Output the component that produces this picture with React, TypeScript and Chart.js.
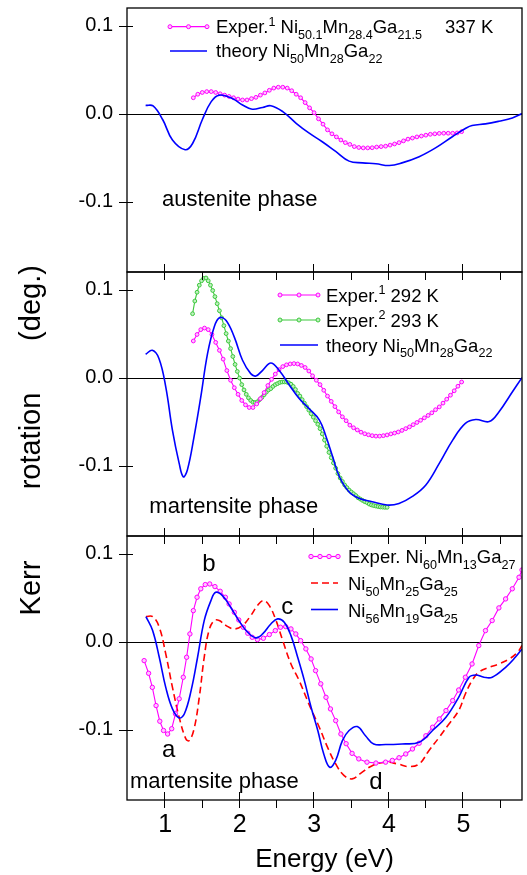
import React, { useEffect, useRef } from 'react';
import { Chart, registerables } from 'chart.js';

Chart.register(...registerables);

const FONT = '"Liberation Sans", Arial, Helvetica, sans-serif';

// ---------- axis ----------
const X_TICKS = [1, 2, 3, 4, 5];
const X_MINOR = [1.5, 2.5, 3.5, 4.5, 5.5];
const Y_TICKS = [-0.1, 0, 0.1];

// ---------- panel 1 (austenite) ----------
const P1_EXP_X = [1.39, 1.45, 1.51, 1.57, 1.63, 1.69, 1.75, 1.81, 1.87, 1.93, 1.99, 2.05, 2.11, 2.17, 2.23, 2.29, 2.35, 2.41, 2.47, 2.53, 2.59, 2.65, 2.71, 2.77, 2.83, 2.89, 2.95, 3.01, 3.07, 3.13, 3.19, 3.25, 3.31, 3.37, 3.43, 3.49, 3.55, 3.61, 3.67, 3.73, 3.79, 3.85, 3.91, 3.97, 4.03, 4.09, 4.15, 4.21, 4.27, 4.33, 4.39, 4.45, 4.51, 4.57, 4.63, 4.69, 4.75, 4.81, 4.87, 4.93, 4.99];
const P1_EXP_Y = [0.018, 0.022, 0.024, 0.025, 0.025, 0.024, 0.0225, 0.021, 0.0195, 0.018, 0.0165, 0.0155, 0.0155, 0.017, 0.0185, 0.021, 0.0235, 0.0265, 0.029, 0.03, 0.03, 0.029, 0.026, 0.022, 0.018, 0.0125, 0.0065, 0.001, -0.006, -0.012, -0.0185, -0.023, -0.0265, -0.03, -0.033, -0.035, -0.0375, -0.0385, -0.039, -0.039, -0.0388, -0.038, -0.0375, -0.037, -0.0358, -0.0345, -0.033, -0.031, -0.029, -0.0278, -0.0265, -0.0255, -0.0245, -0.0235, -0.023, -0.0225, -0.0223, -0.0223, -0.0223, -0.022, -0.0205];
const P1_TH_X = [0.75, 0.85, 0.98, 1.11, 1.28, 1.38, 1.51, 1.63, 1.74, 1.92, 2.05, 2.18, 2.32, 2.43, 2.59, 2.77, 2.94, 3.12, 3.3, 3.48, 3.66, 3.84, 4.02, 4.19, 4.42, 4.64, 4.87, 5.04, 5.13, 5.31, 5.49, 5.67, 5.8];
const P1_TH_Y = [0.0094, 0.0087, -0.007, -0.03, -0.041, -0.034, -0.007, 0.0136, 0.021, 0.017, 0.0098, 0.005, 0.007, 0.009, 0.0023, -0.011, -0.022, -0.032, -0.043, -0.054, -0.056, -0.057, -0.059, -0.056, -0.049, -0.039, -0.026, -0.017, -0.0136, -0.0117, -0.0087, -0.005, 0.0];

// ---------- panel 2 (martensite) ----------
const P2_EXP1_X = [1.39, 1.44, 1.49, 1.54, 1.59, 1.64, 1.69, 1.74, 1.79, 1.84, 1.89, 1.94, 1.99, 2.04, 2.09, 2.14, 2.19, 2.24, 2.29, 2.34, 2.39, 2.44, 2.49, 2.54, 2.59, 2.64, 2.69, 2.74, 2.79, 2.84, 2.89, 2.94, 2.99, 3.04, 3.09, 3.14, 3.19, 3.24, 3.29, 3.34, 3.39, 3.44, 3.49, 3.54, 3.59, 3.64, 3.69, 3.74, 3.79, 3.84, 3.89, 3.94, 3.99, 4.04, 4.09, 4.14, 4.19, 4.24, 4.29, 4.34, 4.39, 4.44, 4.49, 4.54, 4.59, 4.64, 4.69, 4.74, 4.79, 4.84, 4.89, 4.94, 4.99];
const P2_EXP1_Y = [0.0416, 0.049, 0.0545, 0.0563, 0.0545, 0.049, 0.04, 0.031, 0.021, 0.008, -0.003, -0.0115, -0.019, -0.026, -0.031, -0.034, -0.034, -0.03, -0.024, -0.017, -0.009, -0.002, 0.004, 0.009, 0.0125, 0.0145, 0.0155, 0.0159, 0.0155, 0.0138, 0.0115, 0.0075, 0.002, -0.003, -0.008, -0.0144, -0.021, -0.027, -0.033, -0.039, -0.0446, -0.049, -0.054, -0.057, -0.0595, -0.062, -0.0638, -0.065, -0.066, -0.0665, -0.0665, -0.066, -0.0652, -0.064, -0.063, -0.0618, -0.06, -0.058, -0.056, -0.0535, -0.051, -0.0485, -0.0457, -0.043, -0.04, -0.0365, -0.0333, -0.029, -0.0245, -0.02, -0.015, -0.0098, -0.005];
const P2_EXP2_X = [1.38, 1.41, 1.44, 1.47, 1.5, 1.53, 1.56, 1.59, 1.62, 1.65, 1.68, 1.71, 1.74, 1.77, 1.8, 1.83, 1.86, 1.89, 1.92, 1.95, 1.98, 2.01, 2.04, 2.07, 2.1, 2.13, 2.16, 2.19, 2.22, 2.25, 2.28, 2.31, 2.34, 2.37, 2.4, 2.43, 2.46, 2.49, 2.52, 2.55, 2.58, 2.61, 2.64, 2.67, 2.7, 2.73, 2.76, 2.79, 2.82, 2.85, 2.88, 2.91, 2.94, 2.97, 3.0, 3.03, 3.06, 3.09, 3.12, 3.15, 3.18, 3.21, 3.24, 3.27, 3.3, 3.33, 3.36, 3.39, 3.42, 3.45, 3.48, 3.51, 3.54, 3.57, 3.6, 3.63, 3.66, 3.69, 3.72, 3.75, 3.78, 3.81, 3.84, 3.87, 3.9, 3.93, 3.96, 3.99];
const P2_EXP2_Y = [0.0726, 0.087, 0.097, 0.105, 0.11, 0.1128, 0.1132, 0.11, 0.105, 0.099, 0.092, 0.084, 0.076, 0.068, 0.059, 0.05, 0.0415, 0.033, 0.024, 0.015, 0.007, -0.0005, -0.008, -0.014, -0.019, -0.023, -0.026, -0.028, -0.0284, -0.0275, -0.025, -0.0225, -0.0195, -0.0165, -0.014, -0.0125, -0.01, -0.008, -0.0068, -0.0055, -0.005, -0.0049, -0.005, -0.006, -0.0075, -0.01, -0.0135, -0.018, -0.021, -0.025, -0.029, -0.033, -0.037, -0.041, -0.045, -0.049, -0.053, -0.058, -0.064, -0.071, -0.078, -0.085, -0.091, -0.097, -0.103, -0.109, -0.114, -0.118, -0.122, -0.125, -0.1278, -0.13, -0.132, -0.134, -0.1365, -0.138, -0.1395, -0.141, -0.142, -0.1437, -0.1447, -0.1455, -0.146, -0.1465, -0.147, -0.1472, -0.1474, -0.1474];
const P2_TH_X = [0.75, 0.84, 0.93, 1.02, 1.11, 1.2, 1.255, 1.31, 1.4, 1.49, 1.58, 1.67, 1.74, 1.83, 1.94, 2.05, 2.16, 2.23, 2.32, 2.43, 2.54, 2.68, 2.81, 2.94, 3.08, 3.17, 3.26, 3.35, 3.48, 3.61, 3.79, 3.99, 4.15, 4.33, 4.51, 4.69, 4.87, 5.04, 5.18, 5.36, 5.49, 5.67, 5.8];
const P2_TH_Y = [0.0265, 0.031, 0.0215, -0.0106, -0.06, -0.0975, -0.1127, -0.105, -0.067, -0.022, 0.027, 0.0575, 0.068, 0.065, 0.046, 0.0197, 0.0045, 0.0019, 0.0083, 0.0166, 0.0083, -0.0087, -0.0238, -0.035, -0.048, -0.067, -0.09, -0.1127, -0.13, -0.137, -0.141, -0.1448, -0.143, -0.135, -0.122, -0.0975, -0.071, -0.052, -0.0476, -0.05, -0.039, -0.0163, 0.0];

// ---------- panel 3 (martensite, alloys) ----------
const P3_EXP_X = [0.73, 0.79, 0.84, 0.89, 0.94, 0.99, 1.045, 1.1, 1.15, 1.2, 1.255, 1.3, 1.344, 1.39, 1.44, 1.49, 1.55, 1.61, 1.68, 1.75, 1.82, 1.87, 1.94, 2.0, 2.06, 2.12, 2.18, 2.25, 2.33, 2.41, 2.49, 2.56, 2.63, 2.7, 2.765, 2.83, 2.9, 2.97, 3.03, 3.1, 3.17, 3.23, 3.3, 3.37, 3.44, 3.52, 3.61, 3.72, 3.84, 3.97, 4.06, 4.15, 4.24, 4.33, 4.42, 4.51, 4.6, 4.69, 4.78, 4.87, 4.95, 5.04, 5.13, 5.22, 5.31, 5.4, 5.49, 5.58, 5.67, 5.76, 5.8];
const P3_EXP_Y = [-0.0216, -0.036, -0.052, -0.0727, -0.0905, -0.101, -0.105, -0.099, -0.082, -0.065, -0.0405, -0.0178, 0.0087, 0.0352, 0.0504, 0.06, 0.0648, 0.0655, 0.0625, 0.0572, 0.0504, 0.0428, 0.0333, 0.0246, 0.0163, 0.0095, 0.0049, 0.0023, 0.0038, 0.008, 0.0125, 0.0163, 0.017, 0.0144, 0.0087, 0.0011, -0.0083, -0.0197, -0.033, -0.048, -0.0633, -0.0765, -0.0898, -0.105, -0.116, -0.127, -0.1333, -0.137, -0.138, -0.137, -0.135, -0.132, -0.1277, -0.122, -0.1155, -0.107, -0.0973, -0.0879, -0.0784, -0.067, -0.055, -0.0405, -0.0254, -0.0045, 0.0125, 0.0239, 0.0383, 0.0485, 0.06, 0.0731, 0.0814];
const P3_A_X = [0.754, 0.844, 0.933, 1.02, 1.11, 1.2, 1.29, 1.335, 1.4, 1.47, 1.536, 1.6, 1.67, 1.737, 1.83, 1.94, 2.05, 2.16, 2.25, 2.33, 2.41, 2.5, 2.59, 2.7, 2.81, 2.94, 3.08, 3.19, 3.3, 3.41, 3.52, 3.63, 3.79, 3.97, 4.13, 4.28, 4.42, 4.55, 4.69, 4.82, 4.95, 5.04, 5.13, 5.22, 5.36, 5.49, 5.63, 5.74, 5.8];
const P3_A_Y = [0.0284, 0.0284, 0.0163, -0.014, -0.052, -0.086, -0.1106, -0.1125, -0.0992, -0.0633, -0.0178, 0.0125, 0.0239, 0.0239, 0.0182, 0.0144, 0.0182, 0.0295, 0.0409, 0.0466, 0.0409, 0.0239, 0.0011, -0.0254, -0.0443, -0.0708, -0.0973, -0.12, -0.139, -0.152, -0.156, -0.15, -0.141, -0.137, -0.139, -0.142, -0.139, -0.124, -0.1087, -0.0936, -0.0784, -0.0595, -0.0443, -0.0348, -0.0292, -0.0254, -0.0197, -0.0121, -0.0045];
const P3_B_X = [0.754, 0.844, 0.933, 1.02, 1.11, 1.2, 1.27, 1.36, 1.447, 1.536, 1.626, 1.69, 1.78, 1.89, 2.0, 2.12, 2.23, 2.32, 2.43, 2.52, 2.61, 2.7, 2.79, 2.88, 2.97, 3.06, 3.14, 3.22, 3.3, 3.39, 3.48, 3.59, 3.7, 3.81, 3.97, 4.19, 4.42, 4.6, 4.78, 4.95, 5.09, 5.18, 5.29, 5.4, 5.58, 5.71, 5.8];
const P3_B_Y = [0.0284, 0.0125, -0.0178, -0.052, -0.0765, -0.0867, -0.082, -0.0557, -0.0178, 0.0239, 0.0466, 0.056, 0.0523, 0.039, 0.0239, 0.0106, 0.0042, 0.0087, 0.02, 0.0258, 0.022, 0.0068, -0.0178, -0.0443, -0.0746, -0.101, -0.1277, -0.1428, -0.135, -0.1125, -0.101, -0.0966, -0.107, -0.1163, -0.117, -0.1163, -0.1144, -0.101, -0.086, -0.0633, -0.0405, -0.0379, -0.0405, -0.0405, -0.0292, -0.0178, -0.0083];

// ---------- text ----------
const LEGEND_1 = ['Exper.^{1} Ni_{50.1}Mn_{28.4}Ga_{21.5}', 'theory Ni_{50}Mn_{28}Ga_{22}'];
const LEGEND_1_EXTRA = '337 K';
const LEGEND_2 = ['Exper.^{1} 292 K', 'Exper.^{2} 293 K', 'theory Ni_{50}Mn_{28}Ga_{22}'];
const LEGEND_3 = ['Exper. Ni_{60}Mn_{13}Ga_{27}', 'Ni_{50}Mn_{25}Ga_{25}', 'Ni_{56}Mn_{19}Ga_{25}'];
const PHASES = ['austenite phase', 'martensite phase', 'martensite phase'];
const PEAK_LABELS = ['a', 'b', 'c', 'd'];
const PEAK_X = [0.97, 1.51, 2.57, 3.75];
const PEAK_Y = [-0.131, 0.0806, 0.031, -0.1675];
const PHASE_X = [0.97, 0.8, 0.54];
const PHASE_Y = [-0.105, -0.154, -0.166];
const Y_TITLE = ['Kerr', 'rotation', '(deg.)'];
const X_TITLE = 'Energy (eV)';

const MAGENTA = '#ff00ff';
const MAG_FILL = '#ffc6ff';
const GREEN = '#3cc83c';
const GREEN_FILL = '#bff0bf';
const BLUE = '#0000ff';
const RED = '#ff0000';

const pts = (xs: number[], ys: number[]) => xs.map((x, i) => ({ x, y: ys[i] }));

function drawRich(c: CanvasRenderingContext2D, text: string, x: number, y: number, size: number) {
  const parts = text.match(/\^\{[^}]*\}|_\{[^}]*\}|[^_^]+/g) || [];
  let cx = x;
  c.textAlign = 'left';
  c.textBaseline = 'alphabetic';
  for (const p of parts) {
    let t = p;
    let dy = 0;
    let s = size;
    if (p.startsWith('^{')) { t = p.slice(2, -1); dy = -size * 0.42; s = size * 0.68; }
    else if (p.startsWith('_{')) { t = p.slice(2, -1); dy = size * 0.3; s = size * 0.68; }
    c.font = `${s}px ${FONT}`;
    c.fillText(t, cx, y + dy);
    cx += c.measureText(t).width;
  }
}

function sampleLine(c: CanvasRenderingContext2D, x0: number, x1: number, y: number, color: string, dash: number[], markers: number, fill: string, r: number) {
  c.save();
  c.strokeStyle = color;
  c.lineWidth = markers ? 1.2 : 1.6;
  c.setLineDash(dash);
  c.beginPath(); c.moveTo(x0, y); c.lineTo(x1, y); c.stroke();
  c.setLineDash([]);
  for (let i = 0; i < markers; i++) {
    const x = x0 + (x1 - x0) * i / (markers - 1);
    c.beginPath(); c.arc(x, y, r, 0, Math.PI * 2);
    c.fillStyle = fill; c.fill();
    c.lineWidth = 1; c.strokeStyle = color; c.stroke();
  }
  c.restore();
}

const decoPlugin = {
  id: 'deco',
  beforeDatasetsDraw(chart: any) {
    const c = chart.ctx as CanvasRenderingContext2D;
    const { left, right } = chart.chartArea;
    c.save();
    c.strokeStyle = '#000';
    c.lineWidth = 1;
    ['y1', 'y2', 'y3'].forEach((id) => {
      const s = chart.scales[id];
      const y = Math.round(s.getPixelForValue(0)) + 0.5;
      c.beginPath(); c.moveTo(left, y); c.lineTo(right, y); c.stroke();
    });
    c.restore();
  },
  afterDraw(chart: any) {
    const c = chart.ctx as CanvasRenderingContext2D;
    const { left, right } = chart.chartArea;
    const xs = chart.scales.x;
    const panels = ['y1', 'y2', 'y3'].map((id) => chart.scales[id]);
    c.save();
    c.strokeStyle = '#000';
    c.fillStyle = '#000';
    c.lineWidth = 1.3;
    const line = (x0: number, y0: number, x1: number, y1: number) => { c.beginPath(); c.moveTo(x0, y0); c.lineTo(x1, y1); c.stroke(); };
    panels.forEach((s: any) => c.strokeRect(left, s.top, right - left, s.bottom - s.top));
    c.lineWidth = 1;
    // y ticks
    panels.forEach((s: any) => Y_TICKS.forEach((v) => {
      const y = Math.round(s.getPixelForValue(v)) + 0.5;
      line(left - 8, y, left + 6, y);
    }));
    // x ticks at bottom axis and at panel boundaries
    [panels[0].bottom, panels[1].bottom, panels[2].bottom].forEach((yb: number) => {
      X_TICKS.forEach((v) => { const x = Math.round(xs.getPixelForValue(v)) + 0.5; line(x, yb - 8, x, yb + 8); });
      X_MINOR.forEach((v) => { const x = Math.round(xs.getPixelForValue(v)) + 0.5; line(x, yb, x, yb + 8); });
    });
    const bottom = panels[2].bottom;

    // x tick labels
    c.font = `25px ${FONT}`;
    c.textAlign = 'center';
    c.textBaseline = 'alphabetic';
    X_TICKS.forEach((v) => c.fillText(String(v), xs.getPixelForValue(v) + 1, bottom + 32));

    // legends
    const LS = 18.5;
    const t1 = panels[0].top, t2 = panels[1].top, t3 = panels[2].top;
    sampleLine(c, 170, 207, t1 + 18.7, MAGENTA, [], 3, MAG_FILL, 2);
    sampleLine(c, 170, 207, t1 + 43, BLUE, [], 0, '', 0);
    c.fillStyle = '#000';
    drawRich(c, LEGEND_1[0], 216, t1 + 25.3, LS);
    drawRich(c, LEGEND_1_EXTRA, 445, t1 + 25.3, LS);
    drawRich(c, LEGEND_1[1], 216, t1 + 49.3, LS);

    sampleLine(c, 280, 318, t2 + 23, MAGENTA, [], 3, MAG_FILL, 2);
    sampleLine(c, 280, 318, t2 + 48, GREEN, [], 3, GREEN_FILL, 2);
    sampleLine(c, 280, 318, t2 + 73, BLUE, [], 0, '', 0);
    c.fillStyle = '#000';
    drawRich(c, LEGEND_2[0], 326, t2 + 29.5, LS);
    drawRich(c, LEGEND_2[1], 326, t2 + 54.5, LS);
    drawRich(c, LEGEND_2[2], 326, t2 + 79.5, LS);

    sampleLine(c, 311, 338, t3 + 20.5, MAGENTA, [], 4, MAG_FILL, 2.2);
    sampleLine(c, 311, 338, t3 + 47, RED, [7, 4], 0, '', 0);
    sampleLine(c, 311, 338, t3 + 73.5, BLUE, [], 0, '', 0);
    c.fillStyle = '#000';
    drawRich(c, LEGEND_3[0], 348, t3 + 27, LS);
    drawRich(c, LEGEND_3[1], 348, t3 + 54, LS);
    drawRich(c, LEGEND_3[2], 348, t3 + 81, LS);

    // phase labels
    c.font = `22px ${FONT}`;
    c.textAlign = 'left';
    c.textBaseline = 'alphabetic';
    PHASES.forEach((t, i) => {
      c.fillText(t, xs.getPixelForValue(PHASE_X[i]), panels[i].getPixelForValue(PHASE_Y[i]));
    });
    // peak labels
    c.font = `24px ${FONT}`;
    PEAK_LABELS.forEach((t, i) => {
      c.fillText(t, xs.getPixelForValue(PEAK_X[i]), panels[2].getPixelForValue(PEAK_Y[i]));
    });

    // x title
    c.font = `26px ${FONT}`;
    c.textAlign = 'center';
    c.fillText(X_TITLE, (left + right) / 2, 867);

    // y title
    const centers = [588, 441, 303];
    c.font = `29px ${FONT}`;
    Y_TITLE.forEach((t, i) => {
      c.save();
      c.translate(40, centers[i]);
      c.rotate(-Math.PI / 2);
      c.textAlign = 'center';
      c.textBaseline = 'alphabetic';
      c.fillText(t, 0, 0);
      c.restore();
    });
    c.restore();
  },
};

const zeroPad = (s: any) => { s.paddingTop = 0; s.paddingBottom = 0; s.paddingLeft = 0; s.paddingRight = 0; };

const yScale = (weight: number) => ({
  type: 'linear',
  position: 'left',
  stack: 'kerr',
  stackWeight: 1,
  weight,
  min: -0.18,
  max: 0.12,
  grid: { display: false, drawTicks: false },
  border: { display: false },
  afterBuildTicks: (s: any) => { s.ticks = Y_TICKS.map((v) => ({ value: v })); },
  afterFit: (s: any) => { s.width = 127; zeroPad(s); },
  ticks: {
    font: { family: FONT, size: 20 },
    color: '#000',
    padding: 14,
    callback: (v: any) => Number(v).toFixed(1),
  },
});

export default function App() {
  const ref = useRef<HTMLCanvasElement>(null);
  useEffect(() => {
    const canvas = ref.current!;
    const expStyle = (color: string, fill: string, r: number) => ({
      borderColor: color,
      backgroundColor: fill,
      borderWidth: 1.1,
      pointRadius: r,
      pointBorderWidth: 1,
      pointBorderColor: color,
      pointBackgroundColor: fill,
      tension: 0,
    });
    const thStyle = (color: string, dash: number[]) => ({
      borderColor: color,
      backgroundColor: color,
      borderWidth: 1.6,
      borderDash: dash,
      pointRadius: 0,
      tension: 0.4,
    });
    const chart = new Chart(canvas, {
      type: 'line',
      data: {
        datasets: [
          { label: 'theory 1', data: pts(P1_TH_X, P1_TH_Y), yAxisID: 'y1', ...thStyle(BLUE, []) },
          { label: 'exp 1', data: pts(P1_EXP_X, P1_EXP_Y), yAxisID: 'y1', ...expStyle(MAGENTA, MAG_FILL, 1.9) },
          { label: 'theory 2', data: pts(P2_TH_X, P2_TH_Y), yAxisID: 'y2', ...thStyle(BLUE, []) },
          { label: 'exp1 292', data: pts(P2_EXP1_X, P2_EXP1_Y), yAxisID: 'y2', ...expStyle(MAGENTA, MAG_FILL, 1.9) },
          { label: 'exp2 293', data: pts(P2_EXP2_X, P2_EXP2_Y), yAxisID: 'y2', ...expStyle(GREEN, GREEN_FILL, 1.9) },
          { label: 'Ni56', data: pts(P3_B_X, P3_B_Y), yAxisID: 'y3', ...thStyle(BLUE, []) },
          { label: 'exp 3', data: pts(P3_EXP_X, P3_EXP_Y), yAxisID: 'y3', ...expStyle(MAGENTA, MAG_FILL, 2.2) },
          { label: 'Ni50', data: pts(P3_A_X, P3_A_Y), yAxisID: 'y3', ...thStyle(RED, [7, 4]) },
        ] as any,
      },
      options: {
        responsive: false,
        animation: false,
        devicePixelRatio: 1,
        layout: { padding: { left: 0, top: 8, right: 4, bottom: 0 } },
        plugins: { legend: { display: false }, tooltip: { enabled: false } },
        events: [],
        scales: {
          x: {
            type: 'linear',
            min: 0.5,
            max: 5.8,
            position: 'bottom',
            grid: { display: false, drawTicks: false },
            border: { display: false },
            afterBuildTicks: (s: any) => { s.ticks = X_TICKS.map((v) => ({ value: v })); },
            afterFit: (s: any) => { s.height = 75; zeroPad(s); },
            ticks: { display: false },
          },
          y1: yScale(3),
          y2: yScale(2),
          y3: yScale(1),
        } as any,
      },
      plugins: [decoPlugin],
    });
    return () => chart.destroy();
  }, []);
  return (
    <canvas
      ref={ref}
      width={527}
      height={875}
      style={{ position: 'fixed', left: 0, top: 0, width: 527, height: 875, display: 'block' }}
    />
  );
}
